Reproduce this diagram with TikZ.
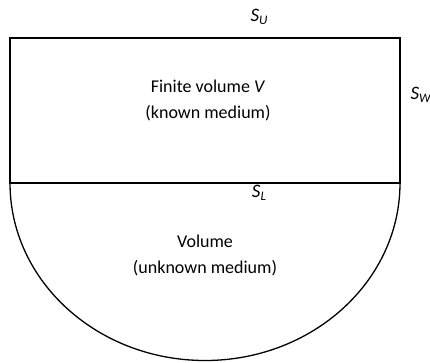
\documentclass[tikz,border=0pt]{standalone}
\usepackage{fontspec}
\setmainfont{Carlito}
\newcommand{\lbl}[2]{\textit{#1}\raisebox{-0.3ex}{\fontsize{13}{14}\selectfont\textit{#2}}}
\begin{document}
\begin{tikzpicture}[x=1pt,y=-1pt,
  edge/.style={line width=1.3pt,black},
  txt/.style={font=\fontsize{18}{26}\selectfont,align=center,inner sep=0pt},
  sym/.style={font=\fontsize{19}{20}\selectfont,inner sep=0pt}]
\useasboundingbox (0,0) rectangle (430,362);
\coordinate (tl) at (10,38);
\coordinate (tr) at (400,38);
\coordinate (bl) at (10,183);
\coordinate (br) at (400,183);
\draw[edge] (bl) -- (tl) -- (tr) -- (br) -- cycle;
\draw[edge] (br) arc[start angle=0,end angle=-180,x radius=195,y radius=-177.5];
\node[txt] (fin) at (208,100) {Finite volume \textit{V}\\(known medium)};
\node[txt] (unk) at (205,255) {Volume\\(unknown medium)};
\node[sym] (su) at (259,17) {\lbl{S}{U}};
\node[sym] (sw) at (421,95) {\lbl{S}{W}};
\node[sym] (sl) at (259,193) {\lbl{S}{L}};
\end{tikzpicture}
\end{document}
